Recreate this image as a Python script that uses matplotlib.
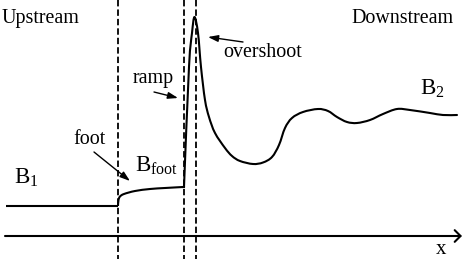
import numpy as np
import matplotlib
matplotlib.use("Agg")
from matplotlib import pyplot as plt
from matplotlib.path import Path
from matplotlib.patches import PathPatch

upstream_x = [6, 118]
upstream_y = [206, 206]
foot_x = [118, 118.5, 120, 124, 135, 150, 165, 183]
foot_y = [206, 200, 196.5, 194, 191, 189, 188, 187]
down_x = [184, 189, 192, 194.5, 198, 201, 205, 209, 215,
          225, 232, 240, 253, 263, 272, 279, 285, 292, 303,
          318, 328, 337, 347, 357, 370, 383, 397, 410, 430,
          443, 457]
down_y = [187, 67, 33, 17, 33, 67, 100, 117, 133,
          148, 156, 161, 164, 162.5, 157, 145, 128, 118, 112,
          109, 111, 117, 122, 123, 120, 114, 109, 110, 113,
          115, 115]

# boundaries: foot start, ramp start, overshoot peak
bounds = [118, 184, 196]

# text labels: (text, x, baseline y)
labels = [("Upstream", 2, 23), ("Downstream", 351, 23), ("overshoot", 223, 57),
          ("ramp", 133, 83), ("foot", 73, 144)]
b_labels = [(r"B$_{1}$", 14, 184), (r"B$_{\mathrm{foot}}$", 135, 172), (r"B$_{2}$", 420, 95)]

# arrows: (tail, head)
pointers = [((243, 42), (208, 37)), ((154, 92), (178, 98)), ((94, 152), (130, 181))]


def smooth_path(xs, ys):
    """Catmull-Rom through the points, drawn as cubic bezier pieces"""
    p = np.column_stack([xs, ys]).astype(float)
    p = np.vstack([p[0], p, p[-1]])
    verts = [p[1]]
    codes = [Path.MOVETO]
    for i in range(1, len(p) - 2):
        c1 = p[i] + (p[i + 1] - p[i - 1]) / 6.0
        c2 = p[i + 1] - (p[i + 2] - p[i]) / 6.0
        verts += [c1, c2, p[i + 1]]
        codes += [Path.CURVE4] * 3
    return Path(verts, codes)


plt.rcParams['font.family'] = ['Liberation Serif', 'DejaVu Serif']
plt.rcParams['mathtext.fontset'] = 'custom'
plt.rcParams['mathtext.rm'] = 'Liberation Serif'
plt.rcParams['mathtext.it'] = 'Liberation Serif'
plt.rcParams['lines.scale_dashes'] = False

fig = plt.figure(figsize=(4.63, 2.59), dpi=100)
ax = fig.add_axes([0, 0, 1, 1])
ax.set_xlim(0, 463)
ax.set_ylim(259, 0)
ax.axis("off")

ax.plot(upstream_x, upstream_y, color="k", lw=1.5, solid_capstyle="butt")
ax.add_patch(PathPatch(smooth_path(foot_x, foot_y), fill=False, lw=1.5, ec="k"))
ax.plot([foot_x[-1], down_x[0]], [foot_y[-1], down_y[0]], color="k", lw=1.5)
ax.add_patch(PathPatch(smooth_path(down_x, down_y), fill=False, lw=1.5, ec="k",
                       joinstyle="round", capstyle="round"))

for b in bounds:
    ax.plot([b, b], [0, 259], color="k", lw=1.3, dashes=(4.6, 2.2))

# x axis
ax.annotate("", xy=(462, 236), xytext=(5, 236),
            arrowprops=dict(arrowstyle="->,head_length=0.3,head_width=0.3",
                            lw=1.5, color="k", mutation_scale=14,
                            shrinkA=0, shrinkB=0))
ax.text(441, 253.5, "x", fontsize=15, ha="center", va="baseline")

for txt, x, y in labels:
    ax.text(x, y, txt, fontsize=14.4, ha="left", va="baseline")
for txt, x, y in b_labels:
    ax.text(x, y, txt, fontsize=16.5, ha="left", va="baseline")

for tail, head in pointers:
    ax.annotate("", xy=head, xytext=tail,
                arrowprops=dict(arrowstyle="-|>,head_length=0.6,head_width=0.2",
                                lw=1.0, color="k", mutation_scale=10,
                                shrinkA=0, shrinkB=0))

fig.savefig("out.png", dpi=100)
